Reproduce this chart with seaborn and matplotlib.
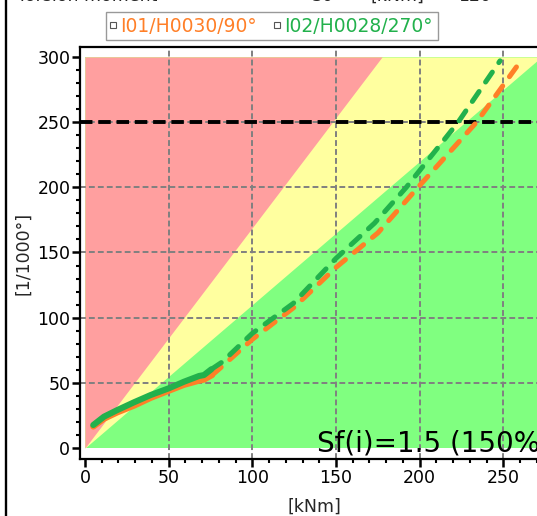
import numpy as np
import pandas as pd
import matplotlib
matplotlib.use("Agg")
import matplotlib.pyplot as plt
import seaborn as sns
from matplotlib.lines import Line2D
from matplotlib.ticker import MultipleLocator

# ---------------- data ----------------
series_names = ["I01/H0030/90°", "I02/H0028/270°"]
series_colors = ["#FF7F27", "#22B14C"]

i01_solid_x = [5, 11.4, 19.4, 29.3, 39.3, 50.2, 59.2, 68.2, 71.1, 76]
i01_solid_y = [16.5, 22.5, 27.4, 32.5, 38.5, 44, 48.5, 51.7, 52.5, 56]
i01_dash_x = [76, 80.7, 100, 125, 150, 175, 199, 234, 261]
i01_dash_y = [56, 61.2, 83.4, 108, 138.6, 165, 200, 250, 298]

i02_solid_x = [5, 11.4, 19.4, 29.3, 39.3, 50.2, 59.2, 68.2, 71.1, 75.5]
i02_solid_y = [17.7, 24.1, 29.2, 35.1, 40.7, 45.9, 50.9, 55.3, 56, 60.4]
i02_dash_x = [75.5, 82, 100, 124.5, 150, 173, 192, 223, 248]
i02_dash_y = [60.4, 66, 88, 111, 145.5, 172.5, 200, 250, 297]

limit_y = 250
red_slope = 1.69
green_slope = 1.1
zone_top = 300
zone_right = 280
x_ticks = [0, 50, 100, 150, 200, 250]
y_ticks = [0, 50, 100, 150, 200, 250, 300]
annotation = "Sf(i)=1.5 (150%)"
header_texts = ["Torsion moment", "30", "[kNm]", "120"]
header_x_px = [17, 312, 370, 458]

# ---------------- figure ----------------
W, H = 537, 516
DPI = 100
sns.set_theme(style="ticks")
plt.rcParams["font.family"] = ["DejaVu Sans"]
fig = plt.figure(figsize=(W / DPI, H / DPI), dpi=DPI)

left_px, right_px, top_px, bottom_px = 80, 537, 47, 459.3
ax = fig.add_axes([left_px / W, 1 - bottom_px / H,
                   (right_px - left_px) / W, (bottom_px - top_px) / H])

x_left = (left_px - 84.9) / 1.674
x_right = (right_px - 84.9) / 1.674

# zones
xs = np.linspace(0, zone_right, 400)
ax.fill_between(xs, 0, zone_top, color="#80FF80", lw=0, zorder=0)
ax.fill_between(xs, np.minimum(green_slope * xs, zone_top), zone_top,
                color="#FFFF9F", lw=0, zorder=0)
ax.fill_between(xs, np.minimum(red_slope * xs, zone_top), zone_top,
                color="#FF9F9F", lw=0, zorder=0)

# grid
for gx in x_ticks[1:]:
    ax.axvline(gx, color="#808080", lw=1.4, ls=(0, (3, 1.6)), zorder=1)
for gy in y_ticks[1:-1]:
    ax.axhline(gy, color="#808080", lw=1.4, ls=(0, (3, 1.6)), zorder=1)

# limit line
ax.axhline(limit_y, color="black", lw=2.8, ls=(0, (3.2, 1.5)), zorder=3)

# curves
df_solid = pd.DataFrame({
    "x": i01_solid_x + i02_solid_x,
    "y": i01_solid_y + i02_solid_y,
    "s": [series_names[0]] * len(i01_solid_x) + [series_names[1]] * len(i02_solid_x),
})
df_dash = pd.DataFrame({
    "x": i01_dash_x + i02_dash_x,
    "y": i01_dash_y + i02_dash_y,
    "s": [series_names[0]] * len(i01_dash_x) + [series_names[1]] * len(i02_dash_x),
})
for name, col in zip(series_names, series_colors):
    sns.lineplot(data=df_dash[df_dash.s == name], x="x", y="y", color=col,
                 lw=3.6, ls=(0, (2.4, 2.3)), dash_capstyle="round",
                 sort=False, ax=ax, legend=False, zorder=4)
for name, col in zip(series_names, series_colors):
    sns.lineplot(data=df_solid[df_solid.s == name], x="x", y="y", color=col,
                 lw=4.4, solid_capstyle="round", solid_joinstyle="round",
                 sort=False, ax=ax, legend=False, zorder=5)

ax.set_xlim(x_left, x_right)
ax.set_ylim(-8.6, 307.6)

# annotation
ax.text((317 - 84.9) / 1.674, -2.6, annotation, fontsize=20, color="black",
        ha="left", va="baseline", zorder=6)

# axes styling
ax.set_xticks(x_ticks)
ax.set_yticks(y_ticks)
ax.xaxis.set_minor_locator(MultipleLocator(10))
ax.yaxis.set_minor_locator(MultipleLocator(10))
ax.xaxis.set_ticks_position("bottom")
ax.yaxis.set_ticks_position("left")
ax.tick_params(axis="both", which="major", direction="out", length=5.5,
               width=1.8, colors="black", labelsize=12.5, pad=1.5)
ax.tick_params(axis="both", which="minor", direction="out", length=3,
               width=1.5, colors="black")
for side in ["left", "bottom", "top"]:
    ax.spines[side].set_visible(True)
    ax.spines[side].set_color("black")
    ax.spines[side].set_linewidth(1.6)
ax.spines["right"].set_visible(False)
ax.grid(False)
ax.set_xlabel("[kNm]", fontsize=12.5)
ax.set_ylabel("[1/1000°]", fontsize=12.5)
ax.xaxis.set_label_coords((314.5 - left_px) / (right_px - left_px), -0.094)
ax.xaxis.label.set_va("top")
ax.yaxis.set_label_coords(-0.105, 0.5)

# legend
handles = [Line2D([], [], ls="none", marker="s", markersize=4,
                  markerfacecolor="white", markeredgecolor="#555555",
                  markeredgewidth=0.8) for _ in series_names]
leg = fig.legend(handles, series_names, loc="center",
                 bbox_to_anchor=(271.5 / W, 1 - 26 / H), ncol=2,
                 frameon=True, fancybox=False, fontsize=13.5,
                 labelcolor=series_colors, handlelength=0.3,
                 handletextpad=0.25, columnspacing=0.9,
                 borderpad=0.25, borderaxespad=0)
leg.get_frame().set_edgecolor("#808080")
leg.get_frame().set_linewidth(1.0)

# header (cut off at top)
for t, xp in zip(header_texts, header_x_px):
    fig.text(xp / W, 1 - 0.6 / H, t, fontsize=12.5, ha="left", va="baseline")

# left frame line
fig.add_artist(Line2D([5.6 / W, 5.6 / W], [0, 1], transform=fig.transFigure,
                      color="black", lw=1.7))

fig.savefig("out.png", dpi=DPI)
